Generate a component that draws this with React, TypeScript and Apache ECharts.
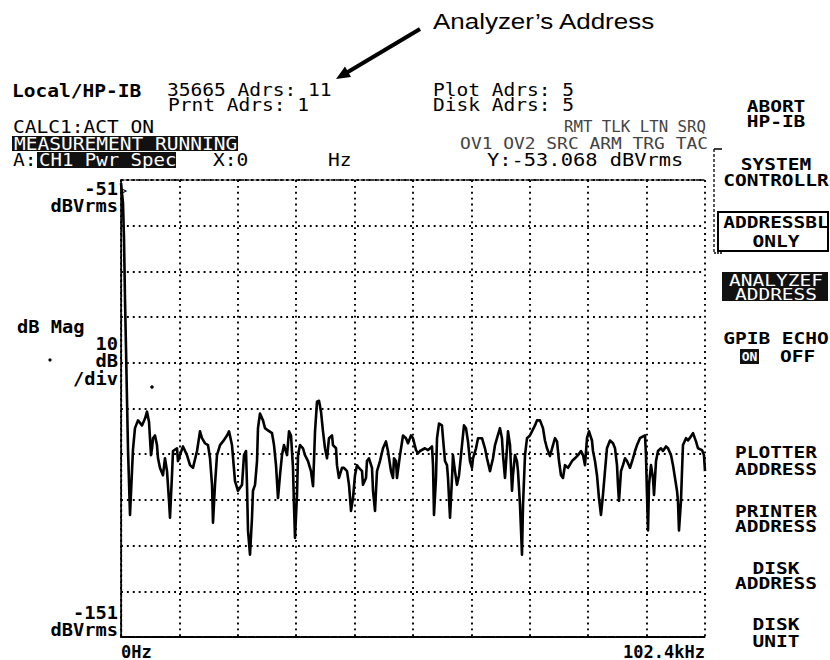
import React, { useEffect, useRef } from "react";
import * as echarts from "echarts";

// ---- Trace data: power spectrum, frequency (kHz) vs level (dBVrms) ----
const FREQ_KHZ = [
  0, 0.35, 0.53, 0.7, 0.88, 1.05, 1.23, 1.58, 2.1, 2.45,
  2.98, 3.68, 4.21, 4.56, 4.91, 5.26, 5.44, 5.61, 5.96, 6.31,
  6.49, 6.84, 7.36, 7.71, 8.07, 8.42, 8.59, 8.94, 9.12, 9.82,
  9.99, 10.34, 10.87, 11.57, 12.1, 12.62, 13.33, 13.85, 14.2, 14.73,
  15.25, 15.61, 15.96, 16.13, 16.48, 16.83, 17.36, 17.88, 18.59, 18.94,
  19.46, 19.99, 20.51, 21.22, 21.57, 21.92, 22.09, 22.27, 22.62, 22.97,
  23.14, 23.5, 23.85, 24.02, 24.37, 24.9, 25.25, 25.77, 26.48, 26.83,
  27.18, 27.53, 27.88, 28.23, 28.58, 29.11, 29.46, 29.81, 30.16, 30.33,
  30.51, 30.86, 31.04, 31.39, 31.91, 32.26, 32.79, 33.31, 33.67, 33.84,
  34.02, 34.37, 34.72, 35.07, 35.42, 35.77, 36.12, 36.47, 37.0, 37.17,
  37.7, 37.87, 38.22, 38.75, 39.1, 39.63, 39.98, 40.33, 40.68, 41.03,
  41.38, 41.73, 42.26, 42.43, 42.96, 43.13, 43.48, 44.01, 44.19, 44.54,
  44.71, 44.89, 45.41, 45.94, 46.46, 46.81, 47.34, 47.69, 47.87, 48.22,
  48.39, 48.92, 49.45, 49.97, 50.32, 50.85, 51.2, 51.73, 52.08, 52.43,
  53.3, 53.83, 54.53, 54.71, 54.88, 55.23, 55.41, 55.76, 56.28, 56.46,
  56.81, 57.16, 57.34, 57.69, 58.04, 58.21, 58.56, 58.91, 59.27, 59.79,
  60.14, 60.49, 60.84, 61.19, 61.54, 61.72, 62.25, 62.6, 63.3, 63.82,
  64.17, 64.7, 65.23, 65.58, 65.93, 66.45, 66.8, 66.98, 67.33, 67.68,
  67.86, 68.21, 68.56, 68.73, 69.08, 69.43, 69.61, 69.96, 70.31, 70.49,
  70.84, 71.19, 71.71, 72.06, 72.59, 72.94, 73.47, 73.99, 74.34, 74.69,
  75.22, 75.75, 76.1, 76.45, 76.8, 77.15, 77.5, 77.85, 78.38, 79.08,
  79.6, 80.13, 80.66, 81.01, 81.36, 81.71, 82.06, 82.58, 82.76, 83.11,
  83.46, 83.81, 84.16, 84.51, 84.86, 85.21, 85.74, 86.27, 86.62, 86.97,
  87.14, 87.32, 87.67, 88.02, 88.37, 88.72, 89.25, 89.77, 90.13, 90.48,
  91.0, 91.53, 91.88, 92.05, 92.23, 92.41, 92.58, 92.93, 93.28, 93.46,
  93.81, 94.16, 94.68, 95.03, 95.56, 95.91, 96.44, 96.79, 97.14, 97.49,
  97.66, 97.84, 98.19, 98.37, 98.54, 99.07, 99.42, 99.94, 100.3, 100.82,
  101.17, 101.87, 102.22, 102.4,
];

const LEVEL_DBVRMS = [
  -51.7, -56, -64, -77, -88, -99, -110, -124.3, -110, -105.3,
  -103.6, -104.7, -103.2, -101.7, -103.9, -111.2, -109.7, -107.5, -106.9, -109.0,
  -111.9, -114.0, -115.6, -111.9, -114.7, -121.2, -124.9, -115.6, -110.3, -109.7,
  -112.5, -111.2, -109.3, -111.2, -113.4, -114.0, -110.3, -106.0, -107.5, -108.6,
  -109.0, -111.9, -117.7, -126.0, -117.7, -111.2, -109.0, -108.2, -106.9, -106.0,
  -109.0, -116.9, -119.0, -117.7, -111.2, -110.3, -117.7, -127.7, -133.0, -124.9,
  -119.0, -117.7, -112.5, -105.3, -102.1, -103.6, -105.3, -105.8, -106.4, -109.0,
  -113.4, -120.6, -115.6, -111.2, -109.0, -111.2, -106.0, -106.9, -114.0, -122.1,
  -129.3, -119.9, -111.2, -109.0, -109.7, -111.2, -112.5, -114.7, -118.0, -112.5,
  -106.0, -99.5, -99.3, -101.7, -106.0, -109.7, -111.9, -107.5, -106.9, -109.0,
  -109.7, -113.4, -116.2, -114.0, -114.0, -114.7, -117.7, -123.4, -120.6, -115.6,
  -113.4, -114.0, -114.7, -117.7, -116.2, -112.5, -111.9, -114.0, -119.0, -123.4,
  -119.0, -114.7, -112.5, -109.7, -108.2, -110.3, -114.7, -116.2, -111.9, -112.5,
  -116.2, -111.2, -106.9, -107.5, -108.6, -106.9, -107.5, -110.1, -110.8, -110.3,
  -109.7, -110.1, -109.3, -113.4, -124.3, -116.2, -107.5, -104.3, -104.7, -107.5,
  -112.5, -113.4, -116.2, -124.9, -116.2, -111.2, -114.7, -117.7, -115.6, -109.0,
  -104.7, -105.3, -108.2, -112.5, -114.0, -111.9, -109.7, -107.5, -107.5, -109.7,
  -111.9, -114.7, -111.9, -109.0, -107.5, -105.3, -107.5, -111.2, -116.2, -109.7,
  -106.0, -109.0, -119.0, -115.6, -111.2, -112.5, -114.7, -122.1, -133.0, -122.1,
  -111.2, -107.5, -106.9, -106.0, -104.7, -103.6, -103.6, -105.3, -108.0, -109.7,
  -111.4, -109.0, -107.5, -108.2, -112.5, -115.6, -116.2, -113.4, -114.0, -112.5,
  -111.9, -111.2, -110.3, -111.2, -113.4, -107.5, -106.0, -108.0, -110.3, -112.5,
  -115.6, -120.6, -124.3, -119.9, -114.7, -109.7, -108.0, -108.6, -109.7, -113.4,
  -117.7, -121.2, -114.7, -113.4, -111.9, -112.5, -114.0, -111.9, -110.3, -109.0,
  -107.5, -107.1, -106.9, -111.2, -119.9, -127.7, -117.7, -113.4, -116.2, -119.9,
  -112.5, -110.3, -109.7, -110.3, -109.3, -109.7, -111.2, -113.4, -116.2, -119.0,
  -121.2, -127.7, -121.2, -114.7, -109.0, -107.5, -108.0, -107.1, -106.4, -108.2,
  -109.7, -110.1, -111.2, -114.7,
];

// ---- Axis ----
const X_MIN_KHZ = 0;
const X_MAX_KHZ = 102.4;
const X_DIV_KHZ = 10.24;
const Y_TOP = -51;
const Y_BOTTOM = -151;
const Y_DIV = 10;
const X_TICK_LABELS = ["0Hz", "102.4kHz"];
const Y_TICK_LABELS = ["-51", "-151"];
const Y_UNIT = "dBVrms";

// ---- Screen texts ----
const HEADER_ROW1 = ["Local/HP-IB", "35665 Adrs: 11", "Plot Adrs: 5"];
const HEADER_ROW2 = ["Prnt Adrs: 1", "Disk Adrs: 5"];
const STATUS_TEXTS = ["CALC1:ACT ON", "MEASUREMENT RUNNING", "RMT TLK LTN SRQ", "OV1 OV2 SRC ARM TRG TAC"];
const TRACE_TEXTS = ["A:", "CH1 Pwr Spec", "X:0", "Hz", "Y:-53.068 dBVrms"];
const LEFT_TEXTS = ["dB Mag", "10", "dB", "/div"];
const SOFTKEYS = [
  ["ABORT", "HP-IB"],
  ["SYSTEM", "CONTROLLR"],
  ["ADDRESSBL", "ONLY"],
  ["ANALYZEF", "ADDRESS"],
  ["GPIB ECHO", "ON", "OFF"],
  ["PLOTTER", "ADDRESS"],
  ["PRINTER", "ADDRESS"],
  ["DISK", "ADDRESS"],
  ["DISK", "UNIT"],
];
const CALLOUT = "Analyzer\u2019s Address";

const MONO = '"DejaVu Sans Mono", monospace';

function txt(
  x: number,
  y: number,
  text: string,
  o: { size?: number; weight?: string; sx?: number; align?: string; fill?: string; family?: string } = {}
) {
  return {
    type: "text",
    x,
    y,
    scaleX: o.sx ?? 1.15,
    z: 20,
    style: {
      text,
      fill: o.fill ?? "#000",
      font: `${o.weight ?? "normal"} ${o.size ?? 17}px ${o.family ?? MONO}`,
      textAlign: o.align ?? "left",
      textVerticalAlign: "middle",
    },
  };
}

function box(x: number, y: number, w: number, h: number, fill = "#111") {
  return { type: "rect", z: 15, shape: { x, y, width: w, height: h }, style: { fill } };
}

function buildGraphics() {
  const g: any[] = [];
  const SK = { size: 16, weight: "bold", sx: 1.22, align: "center" } as const;
  const cx = 776;

  // callout
  g.push(txt(433, 21, CALLOUT, { size: 22, sx: 1.18, family: '"Liberation Sans", Arial, sans-serif' }));
  g.push({ type: "line", z: 20, shape: { x1: 420, y1: 29, x2: 347, y2: 72.5 }, style: { stroke: "#000", lineWidth: 4 } });
  g.push({ type: "polygon", z: 20, shape: { points: [[336, 79], [351, 77], [345, 66.5]] }, style: { fill: "#000" } });

  // header
  g.push(txt(12, 91, HEADER_ROW1[0], { weight: "bold" }));
  g.push(txt(167, 90, HEADER_ROW1[1]));
  g.push(txt(433, 90, HEADER_ROW1[2]));
  g.push(txt(168, 105, HEADER_ROW2[0]));
  g.push(txt(433, 105, HEADER_ROW2[1]));

  // status
  g.push(txt(13, 127, STATUS_TEXTS[0]));
  g.push(box(12, 136, 226, 15));
  g.push(txt(14, 143.5, STATUS_TEXTS[1], { fill: "#fff" }));
  g.push(txt(706, 127, STATUS_TEXTS[2], { size: 15, sx: 1.05, align: "right", fill: "#444" }));
  g.push(txt(708, 143.5, STATUS_TEXTS[3], { size: 16, sx: 1.12, align: "right", fill: "#444" }));

  // trace line
  g.push(txt(13, 160, TRACE_TEXTS[0]));
  g.push(box(37, 152, 139, 16));
  g.push(txt(39, 160, TRACE_TEXTS[1], { fill: "#fff", sx: 1.12 }));
  g.push(txt(213, 160, TRACE_TEXTS[2]));
  g.push(txt(328, 160, TRACE_TEXTS[3]));
  g.push(txt(487, 160, TRACE_TEXTS[4], { sx: 1.2 }));

  // left axis annotation
  const L = { weight: "bold", align: "right", sx: 1.1 } as const;
  g.push(txt(118, 189, Y_TICK_LABELS[0], L));
  g.push(txt(127, 191, ">", { size: 12, align: "right", sx: 1 }));
  g.push(txt(118, 206, Y_UNIT, L));
  g.push(txt(17, 327, LEFT_TEXTS[0], { weight: "bold", sx: 1.1 }));
  g.push(txt(118, 344, LEFT_TEXTS[1], L));
  g.push(txt(118, 361, LEFT_TEXTS[2], L));
  g.push(txt(118, 379, LEFT_TEXTS[3], L));
  g.push(txt(118, 613, Y_TICK_LABELS[1], L));
  g.push(txt(118, 630, Y_UNIT, L));
  g.push({ type: "circle", z: 20, shape: { cx: 50, cy: 360, r: 1.6 }, style: { fill: "#000" } });
  g.push({ type: "circle", z: 20, shape: { cx: 152, cy: 387, r: 1.8 }, style: { fill: "#000" } });

  // softkeys
  g.push(txt(cx, 106, SOFTKEYS[0][0], SK));
  g.push(txt(cx, 121, SOFTKEYS[0][1], SK));
  g.push(txt(cx, 164, SOFTKEYS[1][0], SK));
  g.push(txt(cx, 180, SOFTKEYS[1][1], SK));
  // bracket
  g.push({ type: "line", z: 20, shape: { x1: 714, y1: 149, x2: 722, y2: 149 }, style: { stroke: "#000", lineWidth: 1.5 } });
  g.push({ type: "line", z: 20, shape: { x1: 714, y1: 149, x2: 714, y2: 253 }, style: { stroke: "#000", lineWidth: 1.3, lineDash: [3, 2] } });
  g.push({ type: "line", z: 20, shape: { x1: 714, y1: 253, x2: 722, y2: 253 }, style: { stroke: "#000", lineWidth: 1.5, lineDash: [2, 1] } });
  g.push({ type: "rect", z: 18, shape: { x: 718, y: 212, width: 110, height: 39 }, style: { fill: "none", stroke: "#000", lineWidth: 2 } });
  g.push(txt(cx, 222, SOFTKEYS[2][0], SK));
  g.push(txt(cx, 241, SOFTKEYS[2][1], SK));
  g.push(box(722, 272, 106, 29));
  g.push(txt(cx, 280, SOFTKEYS[3][0], { ...SK, fill: "#fff", weight: "normal" }));
  g.push(txt(cx, 294, SOFTKEYS[3][1], { ...SK, fill: "#fff", weight: "normal" }));
  g.push(txt(cx, 338, SOFTKEYS[4][0], SK));
  g.push(box(740, 349, 19, 15));
  g.push(txt(749.5, 356.5, SOFTKEYS[4][1], { ...SK, size: 13, sx: 1, fill: "#fff" }));
  g.push(txt(780, 356, SOFTKEYS[4][2], { ...SK, align: "left" }));
  g.push(txt(cx, 452, SOFTKEYS[5][0], SK));
  g.push(txt(cx, 469, SOFTKEYS[5][1], SK));
  g.push(txt(cx, 511, SOFTKEYS[6][0], SK));
  g.push(txt(cx, 526, SOFTKEYS[6][1], SK));
  g.push(txt(cx, 568, SOFTKEYS[7][0], SK));
  g.push(txt(cx, 583, SOFTKEYS[7][1], SK));
  g.push(txt(cx, 624, SOFTKEYS[8][0], SK));
  g.push(txt(cx, 641, SOFTKEYS[8][1], SK));
  return g;
}

export default function App() {
  const ref = useRef<HTMLDivElement>(null);

  useEffect(() => {
    if (!ref.current) return;
    const chart = echarts.init(ref.current, undefined, { renderer: "svg" });
    const dotted = { color: "#000", width: 1.9, type: [1.9, 4] as number[] };
    const option: any = {
      animation: false,
      backgroundColor: "#fff",
      grid: { left: 121, right: 125, top: 180, bottom: 20, containLabel: false },
      xAxis: [
        {
          type: "value",
          min: X_MIN_KHZ,
          max: X_MAX_KHZ,
          interval: X_DIV_KHZ,
          axisLine: { show: true, lineStyle: { color: "#000", width: 2, type: [6, 1.5] } },
          axisTick: { show: false },
          splitLine: { show: true, lineStyle: dotted },
          axisLabel: {
            show: true,
            margin: 6,
            color: "#000",
            fontFamily: MONO,
            fontWeight: "bold",
            fontSize: 17,
            verticalAlign: "top",
            alignMinLabel: "left",
            alignMaxLabel: "right",
            formatter: (v: number) =>
              Math.abs(v - X_MIN_KHZ) < 1e-6 ? X_TICK_LABELS[0] : Math.abs(v - X_MAX_KHZ) < 1e-6 ? X_TICK_LABELS[1] : "",
          },
        },
        {
          type: "value",
          position: "top",
          min: X_MIN_KHZ,
          max: X_MAX_KHZ,
          interval: X_DIV_KHZ,
          axisLine: { show: true, lineStyle: { color: "#000", width: 1.5, type: [3, 2] } },
          axisTick: { show: false },
          axisLabel: { show: false },
          splitLine: { show: false },
        },
      ],
      yAxis: [
        {
          type: "value",
          min: Y_BOTTOM,
          max: Y_TOP,
          interval: Y_DIV,
          axisLine: { show: true, lineStyle: { color: "#000", width: 1.5 } },
          axisTick: { show: false },
          axisLabel: { show: false },
          splitLine: { show: true, lineStyle: dotted },
        },
        {
          type: "value",
          position: "right",
          min: Y_BOTTOM,
          max: Y_TOP,
          interval: Y_DIV,
          axisLine: { show: true, lineStyle: { color: "#000", width: 1.3, type: [3, 2] } },
          axisTick: { show: false },
          axisLabel: { show: false },
          splitLine: { show: false },
        },
      ],
      series: [
        {
          type: "line",
          xAxisIndex: 0,
          yAxisIndex: 0,
          data: FREQ_KHZ.map((f, i) => [f, LEVEL_DBVRMS[i]]),
          showSymbol: false,
          symbol: "none",
          clip: true,
          lineStyle: { color: "#000", width: 2.6, join: "round" },
          z: 5,
        },
      ],
      graphic: buildGraphics(),
    };
    chart.setOption(option);
    return () => chart.dispose();
  }, []);

  return (
    <div
      ref={ref}
      style={{ position: "absolute", left: 0, top: 0, width: 830, height: 660, background: "#fff" }}
    />
  );
}
